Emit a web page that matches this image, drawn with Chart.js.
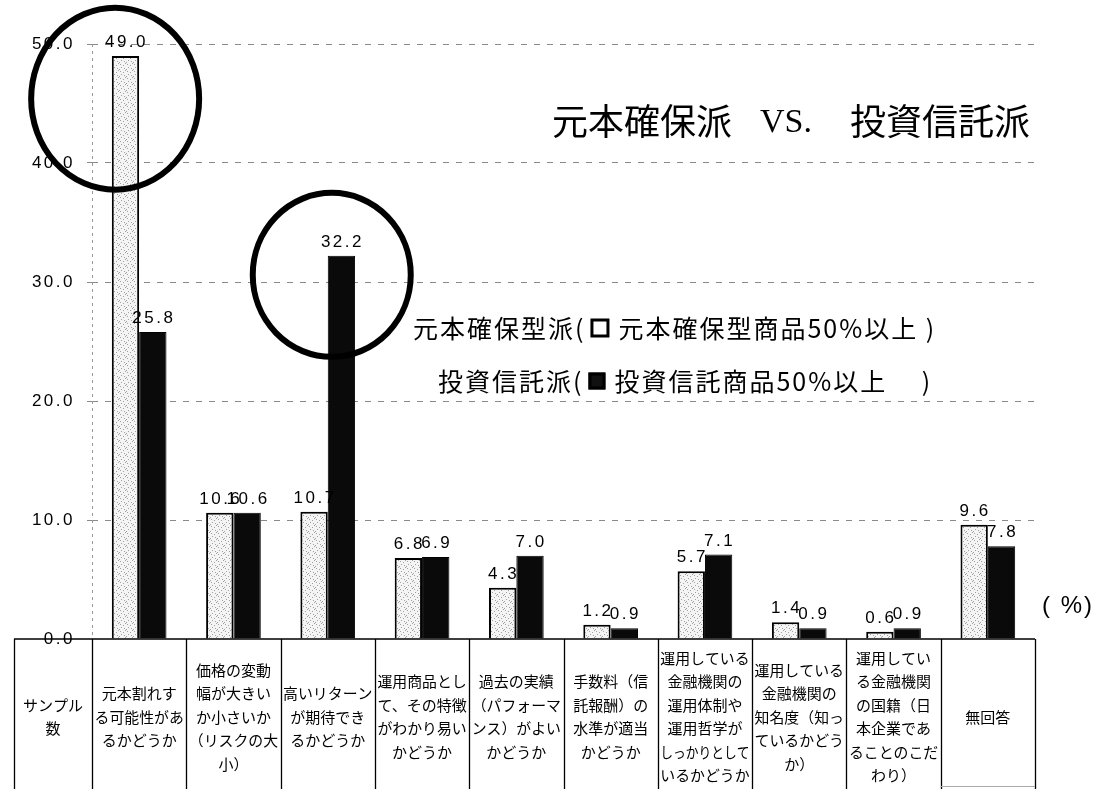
<!DOCTYPE html>
<html lang="ja">
<head>
<meta charset="utf-8">
<title>元本確保派 VS. 投資信託派</title>
<script src="https://cdn.jsdelivr.net/npm/chart.js@4.4.1/dist/chart.umd.min.js"></script>
<style>
  html, body { margin: 0; padding: 0; background: #fff; }
  #wrap { position: relative; width: 1093px; height: 789px; }
</style>
</head>
<body>
<div id="wrap"><canvas id="chart"></canvas></div>
<script>
// 表の見出し（軸の左のセル）
const headerLabel = ['サンプル', '数'];

// 項目（表のセルの文言を行ごとに）
const categories = [
  ['元本割れす', 'る可能性があ', 'るかどうか'],
  ['価格の変動', '幅が大きい', 'か小さいか', '（リスクの大', '小）'],
  ['高いリターン', 'が期待でき', 'るかどうか'],
  ['運用商品とし', 'て、その特徴', 'がわかり易い', 'かどうか'],
  ['過去の実績', '（パフォーマ', 'ンス）がよい', 'かどうか'],
  ['手数料（信', '託報酬）の', '水準が適当', 'かどうか'],
  ['運用している', '金融機関の', '運用体制や', '運用哲学が', 'しっかりとして', 'いるかどうか'],
  ['運用している', '金融機関の', '知名度（知っ', 'ているかどう', 'か）'],
  ['運用してい', 'る金融機関', 'の国籍（日', '本企業であ', 'ることのこだ', 'わり）'],
  ['無回答']
];

// 元本確保型派（元本確保型商品50%以上）
const genponValues = [49.0, 10.6, 10.7, 6.8, 4.3, 1.2, 5.7, 1.4, 0.6, 9.6];
// 投資信託派（投資信託商品50%以上）
const toshinValues = [25.8, 10.6, 32.2, 6.9, 7.0, 0.9, 7.1, 0.9, 0.9, 7.8];

const yTicks = [0, 10, 20, 30, 40, 50];

const seriesNames = ['元本確保型派', '投資信託派'];

const NUM_FONT = '17px "Liberation Sans", Arial, sans-serif';
const JP = '"Noto Sans CJK JP", sans-serif';

const canvas = document.getElementById('chart');
const mainCtx = canvas.getContext('2d');

// 白地に灰色の点（元本確保型の棒）
function makeStipple() {
  const c = document.createElement('canvas');
  c.width = 7; c.height = 7;
  const g = c.getContext('2d');
  g.fillStyle = '#f4f4f4';
  g.fillRect(0, 0, 7, 7);
  g.fillStyle = '#a0a0a0';
  [[1, 1], [4, 2], [2, 4], [5, 5], [0, 6], [6, 0]].forEach(p => g.fillRect(p[0], p[1], 1, 1));
  return mainCtx.createPattern(c, 'repeat');
}
const stipple = makeStipple();

// 強調の丸（どの棒のあたりか）
const circles = [
  { index: 0, dx: -24, value: 45.4, rx: 84, ry: 91 },
  { index: 2, dx: 4, value: 30.6, rx: 79, ry: 82 }
];

const numberSpacing = {
  id: 'numberSpacing',
  beforeDraw(chart) {
    const ctx = chart.ctx;
    ctx.fillStyle = '#fff';
    ctx.fillRect(0, 0, chart.width, chart.height);
    ctx.letterSpacing = '2.5px';
  },
  beforeDatasetsDraw(chart) {
    const ctx = chart.ctx, a = chart.chartArea;
    ctx.save();
    ctx.strokeStyle = '#999';
    ctx.lineWidth = 1;
    ctx.setLineDash([3, 4]);
    ctx.beginPath();
    ctx.moveTo(Math.round(a.left) + 0.5, a.top);
    ctx.lineTo(Math.round(a.left) + 0.5, a.bottom);
    ctx.stroke();
    ctx.restore();
  }
};

const valueLabels = {
  id: 'valueLabels',
  afterDatasetsDraw(chart) {
    const ctx = chart.ctx;
    ctx.save();
    ctx.font = NUM_FONT;
    ctx.letterSpacing = '2.5px';
    ctx.fillStyle = '#000';
    ctx.textAlign = 'center';
    ctx.textBaseline = 'alphabetic';
    chart.data.datasets.forEach((ds, i) => {
      chart.getDatasetMeta(i).data.forEach((bar, j) => {
        ctx.fillText(ds.data[j].toFixed(1), bar.x + 1, bar.y - 9);
      });
    });
    ctx.restore();
  }
};

function drawLines(ctx, lines, cx, cy, lh, maxW) {
  const y0 = cy - (lines.length - 1) * lh / 2;
  lines.forEach((t, k) => ctx.fillText(t, cx, y0 + k * lh, maxW));
}

const decorations = {
  id: 'decorations',
  afterDraw(chart) {
    const ctx = chart.ctx, x = chart.scales.x, y = chart.scales.y, a = chart.chartArea;
    const top = a.bottom, H = chart.height;
    const half = (x.getPixelForValue(1) - x.getPixelForValue(0)) / 2;
    const edges = [14, a.left];
    categories.forEach((c, i) => edges.push(x.getPixelForValue(i) + half));

    ctx.save();
    ctx.letterSpacing = '0px';

    // 表
    ctx.strokeStyle = '#000';
    ctx.lineWidth = 1.3;
    ctx.beginPath();
    ctx.moveTo(14, top); ctx.lineTo(a.right, top);
    edges.forEach(e => {
      const ex = Math.round(e) + 0.5;
      ctx.moveTo(ex, top); ctx.lineTo(ex, H);
    });
    ctx.stroke();
    ctx.strokeStyle = '#aaa';
    ctx.lineWidth = 1;
    ctx.beginPath();
    ctx.moveTo(edges[edges.length - 2], H - 2.5);
    ctx.lineTo(edges[edges.length - 1], H - 2.5);
    ctx.stroke();

    ctx.fillStyle = '#000';
    ctx.font = '15px ' + JP;
    ctx.textAlign = 'center';
    ctx.textBaseline = 'middle';
    const cellMid = 717;
    drawLines(ctx, headerLabel, (edges[0] + edges[1]) / 2, cellMid, 23.5, edges[1] - edges[0] - 6);
    categories.forEach((lines, i) => {
      drawLines(ctx, lines, (edges[i + 1] + edges[i + 2]) / 2, cellMid, 23.5, edges[i + 2] - edges[i + 1] - 5);
    });

    // 題
    ctx.textAlign = 'left';
    ctx.font = '36px ' + JP;
    ctx.fillText('元本確保派', 552, 121);
    ctx.fillText('投資信託派', 850, 121);
    ctx.font = '34px "Liberation Serif", "Times New Roman", serif';
    ctx.fillText('VS.', 760, 123);

    // 凡例
    ctx.font = '25px ' + JP;
    ctx.letterSpacing = '2px';
    const legendRows = [
      { x: 413, y: 328, pre: seriesNames[0] + '(', post: '元本確保型商品50%以上 )', fill: '#fff', size: 19 },
      { x: 438, y: 381, pre: seriesNames[1] + '(', post: '投資信託商品50%以上　 )', fill: '#111', size: 17 }
    ];
    legendRows.forEach(r => {
      ctx.fillText(r.pre, r.x, r.y);
      const bx = r.x + ctx.measureText(r.pre).width + 5;
      ctx.fillStyle = r.fill;
      ctx.fillRect(bx, r.y - r.size / 2, r.size, r.size);
      ctx.lineWidth = 3;
      ctx.strokeStyle = '#000';
      ctx.strokeRect(bx + 1.5, r.y - r.size / 2 + 1.5, r.size - 3, r.size - 3);
      ctx.fillStyle = '#000';
      ctx.fillText(r.post, bx + r.size + 9, r.y);
    });

    // 単位
    ctx.letterSpacing = '2px';
    ctx.font = '24px "Liberation Sans", Arial, sans-serif';
    ctx.fillText('( %)', 1042, 606);

    // 丸
    ctx.lineWidth = 6;
    ctx.strokeStyle = '#000';
    circles.forEach(c => {
      ctx.beginPath();
      ctx.ellipse(x.getPixelForValue(c.index) + c.dx, y.getPixelForValue(c.value), c.rx, c.ry, 0, 0, Math.PI * 2);
      ctx.stroke();
    });
    ctx.restore();
  }
};

new Chart(canvas, {
  type: 'bar',
  data: {
    labels: categories.map(c => c.join('')),
    datasets: [
      {
        label: seriesNames[0],
        data: genponValues,
        backgroundColor: stipple,
        borderColor: '#000',
        borderWidth: 2
      },
      {
        label: seriesNames[1],
        data: toshinValues,
        backgroundColor: '#0a0a0a',
        borderColor: '#000',
        borderWidth: 1
      }
    ]
  },
  options: {
    responsive: true,
    maintainAspectRatio: false,
    animation: false,
    events: [],
    layout: { padding: { left: 0, right: 58, top: 44, bottom: 150 } },
    datasets: { bar: { categoryPercentage: 0.58, barPercentage: 1.0 } },
    plugins: {
      legend: { display: false },
      tooltip: { enabled: false },
      title: { display: false }
    },
    scales: {
      x: { display: false },
      y: {
        min: 0,
        max: 50,
        afterBuildTicks: s => { s.ticks = yTicks.map(v => ({ value: v })); },
        afterFit: s => { s.width = 92; },
        ticks: {
          color: '#000',
          font: { family: '"Liberation Sans", Arial, sans-serif', size: 17 },
          padding: 12,
          callback: v => Number(v).toFixed(1)
        },
        grid: {
          color: c => c.tick && c.tick.value === 0 ? 'rgba(0,0,0,0)' : '#8a8a8a',
          tickColor: c => c.tick && c.tick.value === 0 ? 'rgba(0,0,0,0)' : '#8a8a8a',
          tickLength: 5,
          lineWidth: 1
        },
        border: { display: false, dash: [6, 7] }
      }
    }
  },
  plugins: [numberSpacing, valueLabels, decorations]
});
</script>
</body>
</html>
